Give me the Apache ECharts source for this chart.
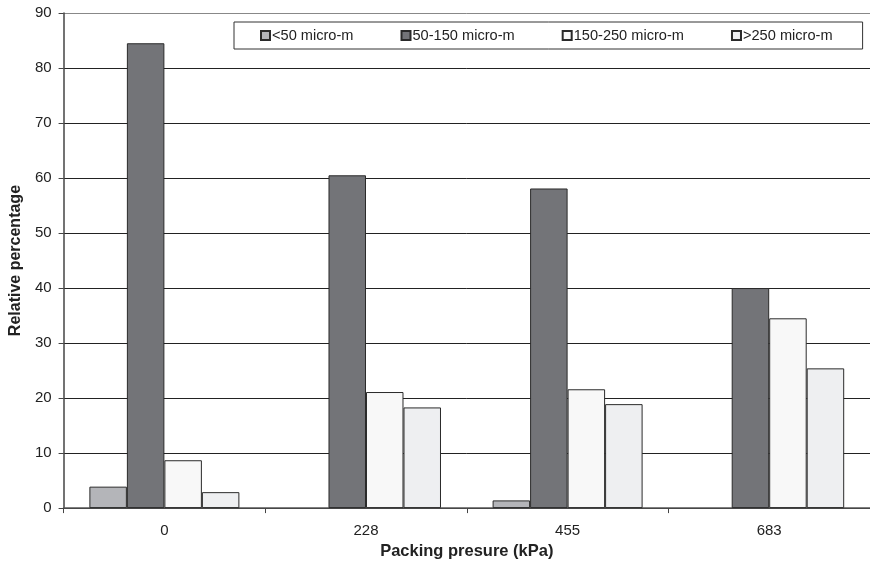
<!DOCTYPE html>
<html>
<head>
<meta charset="utf-8">
<script src="https://cdn.jsdelivr.net/npm/echarts@6/dist/echarts.min.js"></script>
<style>
  html, body { margin: 0; padding: 0; background: #fff; }
  #chart { width: 870px; height: 565px; }
</style>
</head>
<body>
<div id="chart"></div>
<script>
// Packing pressure categories (kPa)
const categories = ['0', '228', '455', '683'];

// Relative percentage of each particle size class
const sizeUnder50 = [3.9, null, 1.4, null];
const size50to150 = [84.5, 60.5, 58.1, 40.0];
const size150to250 = [8.7, 21.1, 21.6, 34.5];
const sizeOver250 = [2.9, 18.3, 18.9, 25.4];

const seriesNames = ['<50 micro-m', '50-150 micro-m', '150-250 micro-m', '>250 micro-m'];
const seriesData = [sizeUnder50, size50to150, size150to250, sizeOver250];
const seriesColors = ['#b4b5b9', '#737478', '#f8f8f8', '#eeeff1'];

const FONT = '"Liberation Sans", Arial, sans-serif';

const chart = echarts.init(document.getElementById('chart'), null, { renderer: 'canvas' });

chart.setOption({
  animation: false,
  backgroundColor: '#ffffff',
  textStyle: { fontFamily: FONT, color: '#222' },
  grid: { left: 58, top: 13, width: 824, height: 497, containLabel: false },
  legend: {
    left: 234,
    top: 22,
    padding: [6, 30, 6, 26],
    itemGap: 47,
    itemWidth: 9,
    itemHeight: 9,
    icon: 'rect',
    borderColor: '#333',
    borderWidth: 1,
    backgroundColor: '#fff',
    textStyle: { fontFamily: FONT, fontSize: 14.6, color: '#222', padding: [0, 0, 0, -3] },
    data: seriesNames
  },
  xAxis: {
    type: 'category',
    data: categories,
    name: 'Packing presure (kPa)',
    nameLocation: 'middle',
    nameGap: 34,
    nameTextStyle: { fontFamily: FONT, fontSize: 16.5, fontWeight: 'bold', color: '#222' },
    axisLine: { lineStyle: { color: '#555', width: 1.5 } },
    axisTick: { show: true, length: 5, inside: false, lineStyle: { color: '#444' } },
    axisLabel: { fontFamily: FONT, fontSize: 15, color: '#222', margin: 15 },
    splitLine: { show: false }
  },
  yAxis: {
    type: 'value',
    min: 0,
    max: 90,
    interval: 10,
    name: 'Relative percentage',
    nameLocation: 'middle',
    nameGap: 39,
    nameTextStyle: { fontFamily: FONT, fontSize: 16, fontWeight: 'bold', color: '#222' },
    axisLine: { show: true, lineStyle: { color: '#444', width: 1.5 } },
    axisTick: { show: true, length: 5, lineStyle: { color: '#444' } },
    axisLabel: { fontFamily: FONT, fontSize: 15, color: '#222', margin: 12 },
    splitLine: {
      show: true,
      lineStyle: {
        color: ['#222', '#222', '#222', '#222', '#222', '#222', '#222', '#222', '#222', '#888'],
        width: 1
      }
    }
  },
  series: seriesNames.map((name, i) => ({
    name: name,
    type: 'bar',
    data: seriesData[i],
    barWidth: 37.5,
    barGap: '0%',
    itemStyle: {
      color: seriesColors[i],
      borderColor: '#2a2a2a',
      borderWidth: 1
    }
  }))
});
</script>
</body>
</html>
